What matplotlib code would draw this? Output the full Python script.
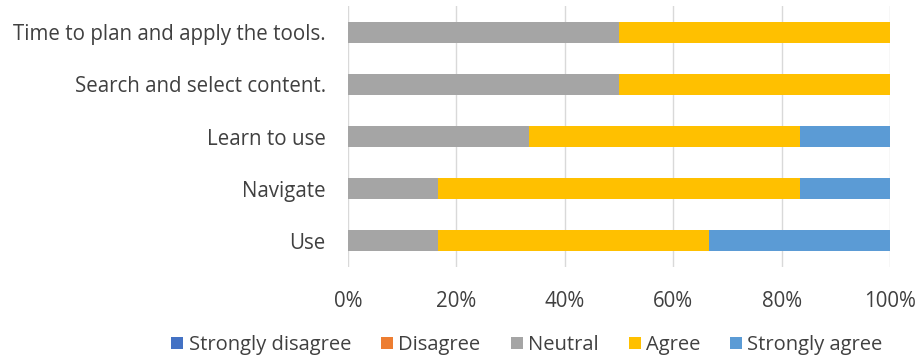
import matplotlib
matplotlib.use("Agg")
import matplotlib.pyplot as plt
import numpy as np

plt.rcParams['font.family'] = ['Open Sans', 'DejaVu Sans']

categories = ['Use', 'Navigate', 'Learn to use', 'Search and select content.',
              'Time to plan and apply the tools.']
series = ['Strongly disagree', 'Disagree', 'Neutral', 'Agree', 'Strongly agree']
strongly_disagree = [0, 0, 0, 0, 0]
disagree = [0, 0, 0, 0, 0]
neutral = [16.67, 16.67, 33.33, 50, 50]
agree = [50, 66.67, 50, 50, 50]
strongly_agree = [33.33, 16.67, 16.67, 0, 0]
colors = ['#4472c4', '#ed7d31', '#a5a5a5', '#ffc000', '#5b9bd5']

values = [strongly_disagree, disagree, neutral, agree, strongly_agree]

fig = plt.figure(figsize=(9.19, 3.6), dpi=100)
ax = fig.add_axes([0.3787, 0.2583, 0.5897, 0.7247])

y = np.arange(len(categories))
left = np.zeros(len(categories))
for name, vals, c in zip(series, values, colors):
    vals = np.array(vals, dtype=float)
    ax.barh(y, vals, left=left, height=0.4, color=c, label=name, zorder=3)
    left += vals

ax.set_xlim(0, 100)
ax.set_ylim(-0.5, len(categories) - 0.5)
ax.set_yticks(y)
ax.set_yticklabels(categories)
ax.set_xticks([0, 20, 40, 60, 80, 100])
ax.set_xticklabels(['0%', '20%', '40%', '60%', '80%', '100%'])
ax.tick_params(axis='both', length=0, labelsize=14.8, labelcolor='#404040')
ax.tick_params(axis='x', pad=17)
ax.tick_params(axis='y', pad=16)
ax.grid(axis='x', color='#d9d9d9', linewidth=1, zorder=0)
for s in ax.spines.values():
    s.set_visible(False)

fig.legend(loc='center', bbox_to_anchor=(527 / 919, 1 - 345 / 360), ncol=5, frameon=False,
           fontsize=14.5, handlelength=0.6, handleheight=0.6, handletextpad=0.25,
           columnspacing=1.5, labelcolor='#404040')

fig.savefig('out.png', dpi=100)
